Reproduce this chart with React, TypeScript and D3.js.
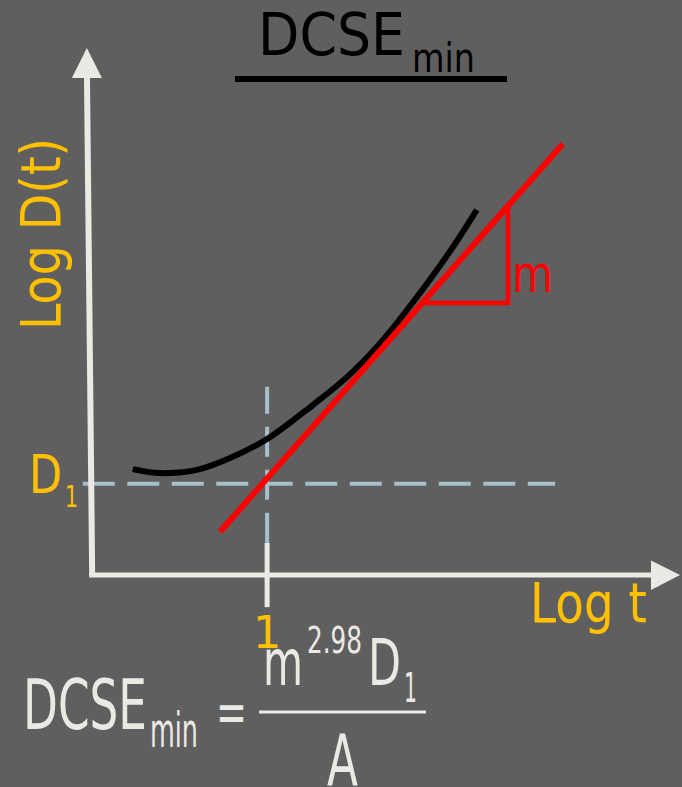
import React from "react";
import * as d3 from "d3";

// schematic log-log plot, values in % of the axis length
const curveX = [7.1, 10.9, 14.3, 18.5, 23.6, 29.9, 37.7, 43.5, 49.1, 54.7, 61.0, 65.5];
const curveY = [20.1, 19.4, 19.4, 20.1, 22.2, 25.8, 32.3, 37.6, 44.0, 51.8, 61.5, 69.3];

const tangentX = [21.9, 80.1];
const tangentY = [8.2, 81.8];

const slopeBaseY = 51.6;
const slopeCornerX = 70.8;

const tOne = 29.9; // log t = 0 -> t = 1
const dOne = 17.3; // D1
const hDashX = [-1.4, 78.8];
const vDashY = [6.1, 35.7];
const tickY = [-6.1, 6.1];

const yAxisX = [0.2, -0.7]; // the axis leans a little
const axisTop = 100;
const axisRight = 100;

const W = 682,
  H = 787;

const bg = "#5f5f5f";
const ink = "#ebe9e4";
const orange = "#ffc000";
const dash = "#a5bfcb";
const red = "#ff0000";
const font = "'DejaVu Sans', Verdana, sans-serif";

export default function App() {
  const x = d3.scaleLinear().domain([0, 100]).range([91, 680]);
  const y = d3.scaleLinear().domain([0, 100]).range([575, 48]);

  const curve = d3
    .line<number>()
    .x((d, i) => x(curveX[i]))
    .y((d, i) => y(curveY[i]))
    .curve(d3.curveCatmullRom.alpha(0.5))(curveX);

  const lineAt = (vx: number) =>
    tangentY[0] +
    ((vx - tangentX[0]) * (tangentY[1] - tangentY[0])) / (tangentX[1] - tangentX[0]);
  const xAt = (vy: number) =>
    tangentX[0] +
    ((vy - tangentY[0]) * (tangentX[1] - tangentX[0])) / (tangentY[1] - tangentY[0]);

  // slope triangle hanging under the tangent line
  const triTop = lineAt(slopeCornerX);
  const tri = [
    [x(xAt(slopeBaseY)), y(slopeBaseY)],
    [x(slopeCornerX), y(slopeBaseY)],
    [x(slopeCornerX), y(triTop)],
  ]
    .map((p) => p.join(","))
    .join(" ");

  const yTipX = x(yAxisX[1]);
  const yTipY = y(axisTop);
  const xTipX = x(axisRight);
  const xTipY = y(0);

  return (
    <svg
      width={W}
      height={H}
      style={{ position: "absolute", left: 0, top: 0, display: "block" }}
      fontFamily={font}
    >
      <rect width={W} height={H} fill={bg} />

      {/* title */}
      <text x={258} y={55} fontSize={58} fill="#000" textLength={147} lengthAdjust="spacingAndGlyphs">
        DCSE
      </text>
      <text x={412} y={72} fontSize={40} fill="#000" textLength={63} lengthAdjust="spacingAndGlyphs">
        min
      </text>
      <line x1={235} x2={507} y1={79} y2={79} stroke="#000" strokeWidth={6} />

      {/* dashed guides */}
      <line
        x1={x(hDashX[0])}
        x2={x(hDashX[1])}
        y1={y(dOne)}
        y2={y(dOne)}
        stroke={dash}
        strokeWidth={4}
        strokeDasharray="32 12.5"
      />
      <line
        x1={x(tOne)}
        x2={x(tOne)}
        y1={y(vDashY[0])}
        y2={y(vDashY[1])}
        stroke={dash}
        strokeWidth={4}
        strokeDasharray="30 13"
      />

      {/* axes */}
      <line x1={x(yAxisX[0])} y1={y(0)} x2={yTipX} y2={yTipY + 20} stroke={ink} strokeWidth={6} />
      <polygon
        points={`${yTipX},${yTipY} ${yTipX - 15},${yTipY + 30} ${yTipX + 15},${yTipY + 30}`}
        fill={ink}
      />
      <line x1={x(yAxisX[0]) - 3} y1={y(0)} x2={xTipX - 20} y2={xTipY} stroke={ink} strokeWidth={5} />
      <polygon
        points={`${xTipX},${xTipY} ${xTipX - 29},${xTipY - 14.5} ${xTipX - 29},${xTipY + 15}`}
        fill={ink}
      />
      <line x1={x(tOne)} x2={x(tOne)} y1={y(tickY[0])} y2={y(tickY[1])} stroke={ink} strokeWidth={5} />

      {/* curve and tangent */}
      <path d={curve ?? ""} fill="none" stroke="#000" strokeWidth={6} />
      <line
        x1={x(tangentX[0])}
        y1={y(tangentY[0])}
        x2={x(tangentX[1])}
        y2={y(tangentY[1])}
        stroke={red}
        strokeWidth={6}
      />
      <polygon points={tri} fill="none" stroke={red} strokeWidth={4.5} />
      <text x={512} y={292} fontSize={52} fill={red} textLength={41} lengthAdjust="spacingAndGlyphs">
        m
      </text>

      {/* axis labels */}
      <text
        transform="translate(60,330) rotate(-90)"
        fontSize={55}
        fill={orange}
        textLength={192}
        lengthAdjust="spacingAndGlyphs"
      >
        Log D(t)
      </text>
      <text x={530} y={622} fontSize={55} fill={orange} textLength={117} lengthAdjust="spacingAndGlyphs">
        Log t
      </text>
      <text x={29} y={493} fontSize={53} fill={orange} textLength={33} lengthAdjust="spacingAndGlyphs">
        D
      </text>
      <text x={65} y={507} fontSize={30} fill={orange} textLength={13} lengthAdjust="spacingAndGlyphs">
        1
      </text>
      <text x={x(tOne)} y={648} fontSize={45} fill={orange} textAnchor="middle">
        1
      </text>

      {/* formula */}
      <g fill={ink}>
        <text x={23} y={729} fontSize={70} textLength={124} lengthAdjust="spacingAndGlyphs">
          DCSE
        </text>
        <text x={150} y={747} fontSize={48} textLength={48} lengthAdjust="spacingAndGlyphs">
          min
        </text>
        <text x={216} y={732} fontSize={58} textLength={31} lengthAdjust="spacingAndGlyphs">
          =
        </text>
        <text x={263} y={685} fontSize={64} textLength={40} lengthAdjust="spacingAndGlyphs">
          m
        </text>
        <text x={307} y={653} fontSize={37} textLength={55} lengthAdjust="spacingAndGlyphs">
          2.98
        </text>
        <text x={368} y={685} fontSize={64} textLength={33} lengthAdjust="spacingAndGlyphs">
          D
        </text>
        <text x={404} y={702} fontSize={40} textLength={13} lengthAdjust="spacingAndGlyphs">
          1
        </text>
        <text x={327} y={785} fontSize={71} textLength={31} lengthAdjust="spacingAndGlyphs">
          A
        </text>
      </g>
      <line x1={259} x2={426} y1={712} y2={712} stroke={ink} strokeWidth={3} />
    </svg>
  );
}
